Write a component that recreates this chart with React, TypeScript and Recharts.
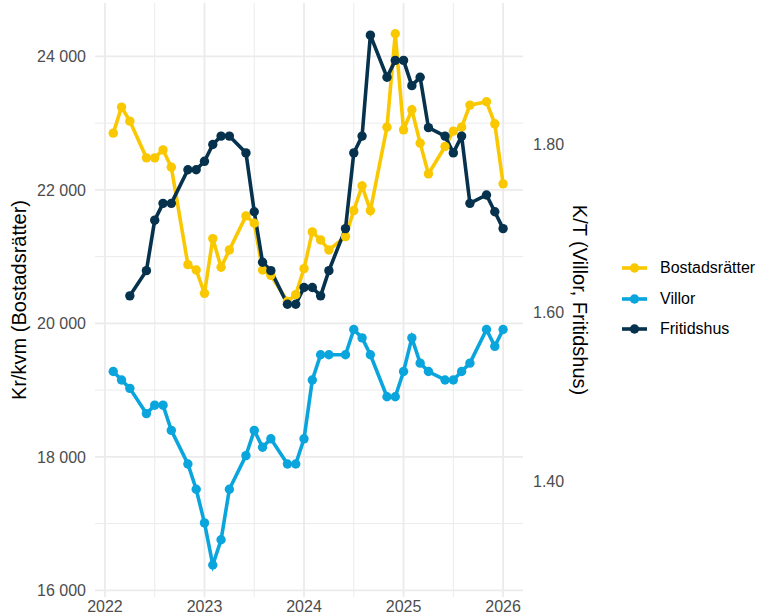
import React from 'react';
import { LineChart, Line, XAxis, YAxis, CartesianGrid } from 'recharts';

// month of each observation (May and October are not published)
const months = [
  '2022-02', '2022-03', '2022-04', '2022-06', '2022-07', '2022-08', '2022-09', '2022-11', '2022-12',
  '2023-01', '2023-02', '2023-03', '2023-04', '2023-06', '2023-07', '2023-08', '2023-09', '2023-11', '2023-12',
  '2024-01', '2024-02', '2024-03', '2024-04', '2024-06', '2024-07', '2024-08', '2024-09', '2024-11', '2024-12',
  '2025-01', '2025-02', '2025-03', '2025-04', '2025-06', '2025-07', '2025-08', '2025-09', '2025-11', '2025-12',
  '2026-01',
];

// Kr/kvm
const bostadsratter = [
  22850, 23240, 23030, 22480, 22480, 22600, 22340, 20880, 20800,
  20450, 21270, 20840, 21100, 21610, 21500, 20800, 20720, 20330, 20430,
  20820, 21370, 21250, 21100, 21300, 21690, 22060, 21690, 22940, 24340,
  22900, 23200, 22700, 22240, 22650, 22880, 22940, 23270, 23320, 22990,
  22090,
];

// K/T
const villor = [
  1.53, 1.52, 1.51, 1.48, 1.49, 1.49, 1.46, 1.42, 1.39,
  1.35, 1.30, 1.33, 1.39, 1.43, 1.46, 1.44, 1.45, 1.42, 1.42,
  1.45, 1.52, 1.55, 1.55, 1.55, 1.58, 1.57, 1.55, 1.50, 1.50,
  1.53, 1.57, 1.54, 1.53, 1.52, 1.52, 1.53, 1.54, 1.58, 1.56,
  1.58,
];

const fritidshus = [
  null, null, 1.62, 1.65, 1.71, 1.73, 1.73, 1.77, 1.77,
  1.78, 1.80, 1.81, 1.81, 1.79, 1.72, 1.66, 1.65, 1.61, 1.61,
  1.63, 1.63, 1.62, 1.65, 1.70, 1.79, 1.81, 1.93, 1.88, 1.90,
  1.90, 1.87, 1.88, 1.82, 1.81, 1.79, 1.81, 1.73, 1.74, 1.72,
  1.70,
];

const yearTicks = [2022, 2023, 2024, 2025, 2026];
const halfYears = [2022.5, 2023.5, 2024.5, 2025.5];
const leftTicks = [16000, 18000, 20000, 22000, 24000];
const leftMinor = [17000, 19000, 21000, 23000];
const rightTicks = [1.4, 1.6, 1.8];

// secondary axis = primary / 12600
const RATIO = 12600;
const LEFT_DOMAIN = [15900, 24800];

const COLORS = {
  bostad: '#FAC800',
  villor: '#0AA5DD',
  fritid: '#06324D',
};

const FONT = '"Liberation Sans", Arial, sans-serif';

const data = months.map((m, i) => {
  const [y, mo] = m.split('-').map(Number);
  return {
    t: y + (mo - 1) / 12,
    bostad: bostadsratter[i],
    villor: villor[i],
    fritid: fritidshus[i],
  };
});

const fmtKr = (v: number) => `${Math.floor(v / 1000)} ${String(v % 1000).padStart(3, '0')}`;

const legendItems = [
  { name: 'Bostadsrätter', color: COLORS.bostad },
  { name: 'Villor', color: COLORS.villor },
  { name: 'Fritidshus', color: COLORS.fritid },
];

const LINE_W = 3.6;
const DOT_R = 4.7;

export default function App() {
  const tick = { fill: '#4D4D4D', fontSize: 16, fontFamily: FONT };
  const dot = (c: string) => ({ r: DOT_R, fill: c, stroke: c, strokeWidth: 0 });
  return (
    <div style={{ position: 'absolute', left: 0, top: 0, width: 757, height: 615, background: '#fff' }}>
      <LineChart
        width={757}
        height={615}
        data={data}
        margin={{ top: 3, right: 154, bottom: 0, left: 0 }}
      >
        <CartesianGrid
          xAxisId="x"
          yAxisId="left"
          stroke="#EBEBEB"
          strokeWidth={1}
          horizontalValues={leftMinor}
          verticalValues={halfYears}
        />
        <CartesianGrid
          xAxisId="x"
          yAxisId="left"
          stroke="#EBEBEB"
          strokeWidth={1.8}
          horizontalValues={leftTicks}
          verticalValues={yearTicks}
        />
        <XAxis
          xAxisId="x"
          dataKey="t"
          type="number"
          domain={[2021.9, 2026.2]}
          allowDataOverflow
          ticks={yearTicks}
          tick={tick}
          tickLine={false}
          axisLine={false}
          tickSize={0}
          tickMargin={4}
          height={18}
        />
        <YAxis
          yAxisId="left"
          type="number"
          domain={LEFT_DOMAIN}
          allowDataOverflow
          ticks={leftTicks}
          tickFormatter={fmtKr}
          tick={tick}
          tickLine={false}
          axisLine={false}
          tickSize={0}
          tickMargin={9}
          width={95}
          label={{
            content: ({ viewBox }: any) => (
              <text
                transform={`translate(${viewBox.x + 19},${viewBox.y + viewBox.height / 2}) rotate(-90)`}
                textAnchor="middle"
                dominantBaseline="central"
                fontSize={20}
                fontFamily={FONT}
                fill="#000"
              >
                Kr/kvm (Bostadsrätter)
              </text>
            ),
          }}
        />
        <YAxis
          yAxisId="right"
          orientation="right"
          type="number"
          domain={[LEFT_DOMAIN[0] / RATIO, LEFT_DOMAIN[1] / RATIO]}
          allowDataOverflow
          ticks={rightTicks}
          tickFormatter={(v: number) => v.toFixed(2)}
          tick={tick}
          tickLine={false}
          axisLine={false}
          tickSize={0}
          tickMargin={10}
          width={80}
          label={{
            content: ({ viewBox }: any) => (
              <text
                transform={`translate(${viewBox.x + 57},${viewBox.y + viewBox.height / 2}) rotate(90)`}
                textAnchor="middle"
                dominantBaseline="central"
                fontSize={20}
                fontFamily={FONT}
                fill="#000"
              >
                K/T (Villor, Fritidshus)
              </text>
            ),
          }}
        />
        <Line
          xAxisId="x"
          yAxisId="left"
          type="linear"
          dataKey="bostad"
          stroke={COLORS.bostad}
          strokeWidth={LINE_W}
          dot={dot(COLORS.bostad)}
          activeDot={false}
          isAnimationActive={false}
        />
        <Line
          xAxisId="x"
          yAxisId="right"
          type="linear"
          dataKey="villor"
          stroke={COLORS.villor}
          strokeWidth={LINE_W}
          dot={dot(COLORS.villor)}
          activeDot={false}
          isAnimationActive={false}
        />
        <Line
          xAxisId="x"
          yAxisId="right"
          type="linear"
          dataKey="fritid"
          stroke={COLORS.fritid}
          strokeWidth={LINE_W}
          dot={dot(COLORS.fritid)}
          activeDot={false}
          isAnimationActive={false}
        />
      </LineChart>
      <div style={{ position: 'absolute', left: 620, top: 253, fontFamily: FONT, fontSize: 16, color: '#000' }}>
        {legendItems.map((it) => (
          <div key={it.name} style={{ display: 'flex', alignItems: 'center', height: 30.4 }}>
            <svg width={30} height={16} style={{ marginRight: 10 }}>
              <line x1={2} y1={8} x2={27} y2={8} stroke={it.color} strokeWidth={LINE_W} />
              <circle cx={14.5} cy={8} r={DOT_R} fill={it.color} />
            </svg>
            <span>{it.name}</span>
          </div>
        ))}
      </div>
    </div>
  );
}
